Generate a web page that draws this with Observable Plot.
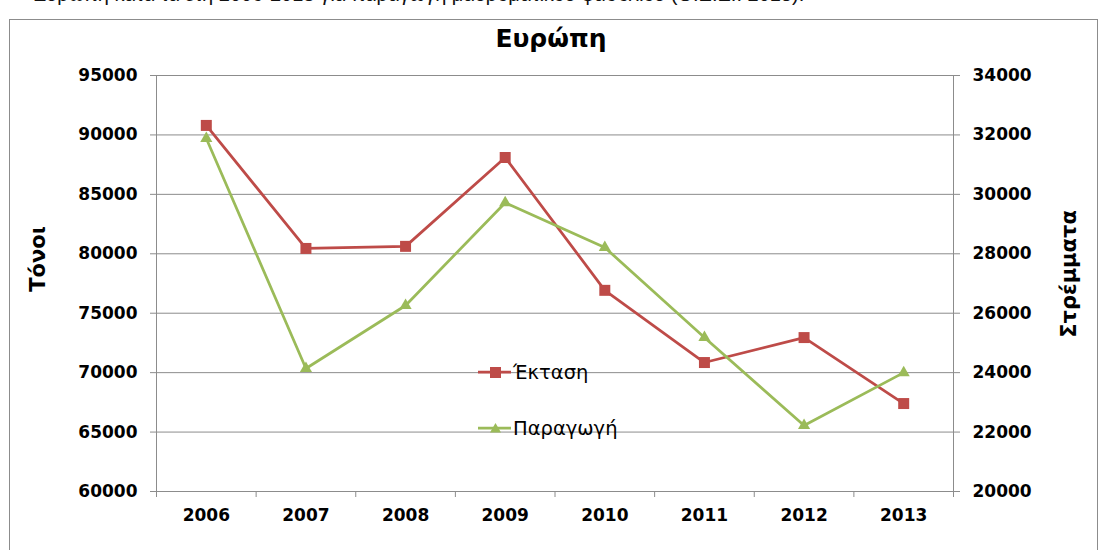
<!DOCTYPE html>
<html>
<head>
<meta charset="utf-8">
<script src="https://cdn.jsdelivr.net/npm/d3@7"></script>
<script src="https://cdn.jsdelivr.net/npm/@observablehq/plot@0.6"></script>
<style>
  html, body { margin: 0; padding: 0; background: #fff; }
  #wrap { position: relative; width: 1098px; height: 550px; overflow: hidden; background: #fff; }
  #lead { position: absolute; left: 33px; top: -16px; font: 20px "Liberation Sans", Arial, sans-serif; line-height: 20px; white-space: nowrap; color: #111; }
  #frame { position: absolute; left: 9px; top: 19px; width: 1089px; height: 560px; box-sizing: border-box; border: 1px solid #8c8c8c; }
  #title { position: absolute; left: 0; top: 24px; width: 1102px; text-align: center; font: bold 25px "DejaVu Sans", sans-serif; color: #000; }
  #chart { position: absolute; left: 0; top: 0; }
  #chart svg text { font-weight: bold; }
  .ytitle { position: absolute; font: bold 21px "DejaVu Sans", sans-serif; color: #000; white-space: nowrap; transform: translate(-50%, -50%) rotate(-90deg); }
  .leg { position: absolute; left: 476px; height: 24px; display: flex; align-items: center; font: 19.5px "DejaVu Sans", sans-serif; color: #000; white-space: nowrap; }
  .leg svg { display: block; margin-right: 1px; }
</style>
</head>
<body>
<div id="wrap">
  <div id="lead">Ευρώπη κατά τα έτη 2006-2013 για παραγωγή μαυρομάτικου φασολιού (Ο.Ε.Ε.: 2015).</div>
  <div id="frame"></div>
  <div id="chart"></div>
  <div id="title">Ευρώπη</div>
  <div class="ytitle" style="left:38px; top:259px;">Τόνοι</div>
  <div class="ytitle" style="left:1069px; top:274px;">Στρέμματα</div>
  <div id="legend"></div>
</div>
<script>
// Years on the category axis
const years = [2006, 2007, 2008, 2009, 2010, 2011, 2012, 2013];
// Έκταση, in στρέμματα (right axis)
const ektasi = [32320, 28180, 28250, 31240, 26770, 24340, 25180, 22960];
// Παραγωγή, in τόνοι (left axis)
const paragogi = [89700, 70350, 75650, 84300, 80530, 72950, 65550, 70000];
// Tick values of the two value axes
const leftTicks = [60000, 65000, 70000, 75000, 80000, 85000, 90000, 95000];
const rightTicks = [20000, 22000, 24000, 26000, 28000, 30000, 32000, 34000];

const red = "#be4b48";
const green = "#9bbb59";
const gridColor = "#8c8c8c";

// The right axis (20000–34000) shares the plot height with the left axis (60000–95000)
const leftDomain = [60000, 95000];
const rightDomain = [20000, 34000];
const ratio = (leftDomain[1] - leftDomain[0]) / (rightDomain[1] - rightDomain[0]);
const toLeft = v => leftDomain[0] + (v - rightDomain[0]) * ratio;
const fromLeft = v => Math.round(rightDomain[0] + (v - leftDomain[0]) / ratio);

const areaRows = years.map((year, i) => ({year, value: ektasi[i]}));
const prodRows = years.map((year, i) => ({year, value: paragogi[i]}));
const boundaries = d3.range(years.length + 1).map(i => years[0] - 0.5 + i);

const chart = Plot.plot({
  width: 1098,
  height: 550,
  marginLeft: 156,
  marginRight: 145,
  marginTop: 75,
  marginBottom: 59,
  style: {fontFamily: "DejaVu Sans, sans-serif", fontSize: "17px", color: "#000", background: "transparent", overflow: "visible"},
  x: {type: "linear", domain: [boundaries[0], boundaries[boundaries.length - 1]], axis: null},
  y: {domain: leftDomain, axis: null},
  marks: [
    Plot.gridY(leftTicks, {stroke: gridColor, strokeOpacity: 1, strokeWidth: 1}),
    Plot.ruleX([boundaries[0], boundaries[boundaries.length - 1]], {stroke: gridColor, strokeWidth: 1}),
    Plot.axisY(leftTicks, {anchor: "left", tickSize: 6, tickPadding: 13, tickFormat: d => String(d), stroke: gridColor, fill: "#000", label: null}),
    Plot.axisY(rightTicks.map(toLeft), {anchor: "right", tickSize: 6, tickPadding: 13, tickFormat: d => String(fromLeft(d)), stroke: gridColor, fill: "#000", label: null}),
    Plot.axisX(boundaries, {anchor: "bottom", tickSize: 6, tickFormat: () => "", stroke: gridColor, label: null}),
    Plot.axisX(years, {anchor: "bottom", tickSize: 0, tickPadding: 17, tickFormat: d => String(d), fill: "#000", label: null}),
    Plot.line(areaRows, {x: "year", y: d => toLeft(d.value), stroke: red, strokeWidth: 2.75}),
    Plot.dot(areaRows, {x: "year", y: d => toLeft(d.value), symbol: "square", r: 6.2, fill: red, stroke: null}),
    Plot.line(prodRows, {x: "year", y: "value", stroke: green, strokeWidth: 2.75}),
    Plot.dot(prodRows, {x: "year", y: "value", symbol: "triangle", r: 4.5, fill: green, stroke: null})
  ]
});
document.getElementById("chart").appendChild(chart);

// Legend inside the plot area
const legendItems = [
  {label: "Έκταση", color: red, shape: "square", top: 360},
  {label: "Παραγωγή", color: green, shape: "triangle", top: 416}
];
const legend = document.getElementById("legend");
for (const item of legendItems) {
  const row = document.createElement("div");
  row.className = "leg";
  row.style.top = item.top + "px";
  const marker = item.shape === "square"
    ? `<rect x="14" y="7" width="11" height="11" fill="${item.color}"/>`
    : `<path d="M19.5,7 L25,16.5 L14,16.5 Z" fill="${item.color}"/>`;
  row.innerHTML = `<svg width="36" height="24"><line x1="2" y1="12" x2="35" y2="12" stroke="${item.color}" stroke-width="2.75"/>${marker}</svg><span>${item.label}</span>`;
  legend.appendChild(row);
}
</script>
</body>
</html>
